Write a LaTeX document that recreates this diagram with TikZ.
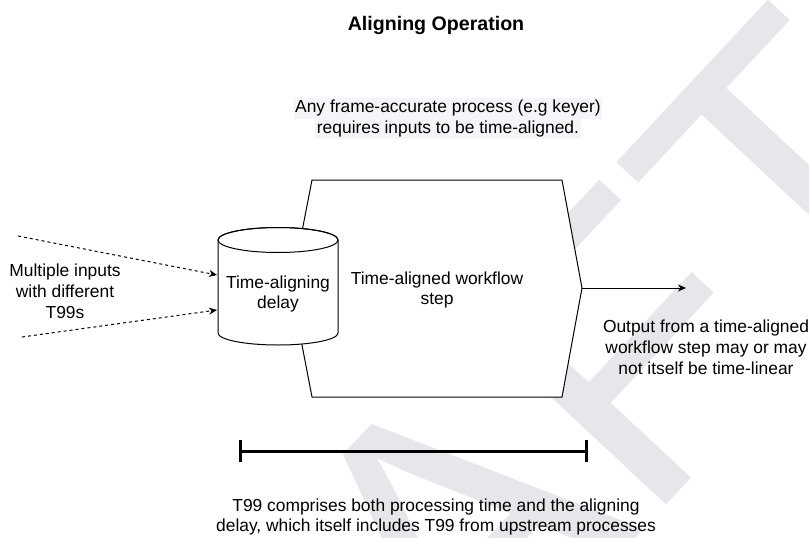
\documentclass[tikz,border=0pt]{standalone}
\usepackage{fontspec}
\setmainfont{Liberation Sans}
\usetikzlibrary{arrows.meta}
\definecolor{wmgray}{RGB}{230,231,235}
\definecolor{hlgray}{RGB}{244,245,248}
\newcommand\hlline[1]{{\setlength{\fboxsep}{0pt}\colorbox{hlgray}{\strut\kern1.5pt #1\kern1.5pt}}}
\begin{document}
\begin{tikzpicture}[x=1pt,y=-1pt,
  txt/.style={font=\fontsize{17.4}{20.9}\selectfont, align=center, inner sep=0pt},
  titlestyle/.style={font=\bfseries\fontsize{19.6}{23}\selectfont, inner sep=0pt},
  wmark/.style={font=\fontsize{393}{393}\selectfont, text=wmgray, inner sep=0pt, outer sep=0pt},
  outline/.style={draw=black, line width=1pt, fill=white},
  arr/.style={line width=1pt, -{Stealth[length=8pt,width=7pt,inset=2.5pt]}},
  dasharr/.style={arr, dash pattern=on 3pt off 3pt},
  spanbar/.style={line width=3pt, {Bar[width=22pt]}-{Bar[width=22pt]}}
]
\useasboundingbox (0,0) rectangle (809,538);
\fill[white] (0,0) rectangle (809,538);
% watermark
\begin{scope}
  \clip (0,0) rectangle (809,538);
  \node[wmark, anchor=base west, rotate=47] (wm) at (78.5,1135.4) {DRAFT};
\end{scope}

% title and notes
\node[titlestyle] (title) at (436,25) {Aligning Operation};
\node[txt] (note) at (448,118.5) {\hlline{Any frame-accurate process (e.g keyer)}\\\hlline{requires inputs to be time-aligned.}};

% workflow step (hexagon)
\coordinate (hTL) at (312,180);
\coordinate (hTR) at (562,180);
\coordinate (hR)  at (582,288);
\coordinate (hBR) at (562,397);
\coordinate (hBL) at (312,397);
\coordinate (hL)  at (291,288);
\draw[outline] (hTL) -- (hTR) -- (hR) -- (hBR) -- (hBL) -- (hL) -- cycle;
\node[txt] (step) at (437,290) {Time-aligned workflow\\step};

% cylinder (time-aligning delay)
\draw[outline] (218,240) -- (218,333) arc[start angle=180,end angle=0,x radius=60,y radius=12]
  -- (338,240) arc[start angle=0,end angle=-180,x radius=60,y radius=12.5] -- cycle;
\draw[line width=1pt] (278,240) ellipse[x radius=60,y radius=12.5];
\node[txt] (delay) at (278,294) {Time-aligning\\delay};
\coordinate (cylA) at (217,275);
\coordinate (cylB) at (217,310);

% inputs
\node[txt] (inputs) at (65,291) {Multiple inputs\\with different\\T99s};
\coordinate (inA) at (18,236);
\coordinate (inB) at (22,337);
\draw[dasharr] (inA) -- (cylA);
\draw[dasharr] (inB) -- (cylB);

% output
\coordinate (outEnd) at (686,288);
\draw[arr] (hR) -- (outEnd);
\node[txt] (output) at (706,347) {Output from a time-aligned\\workflow step may or may\\not itself be time-linear};

% T99 span
\coordinate (barL) at (239,451);
\coordinate (barR) at (588,451);
\draw[spanbar] (barL) -- (barR);
\node[txt] (t99) at (436,517) {T99 comprises both processing time and the aligning\\delay, which itself includes T99 from upstream processes};
\end{tikzpicture}
\end{document}
